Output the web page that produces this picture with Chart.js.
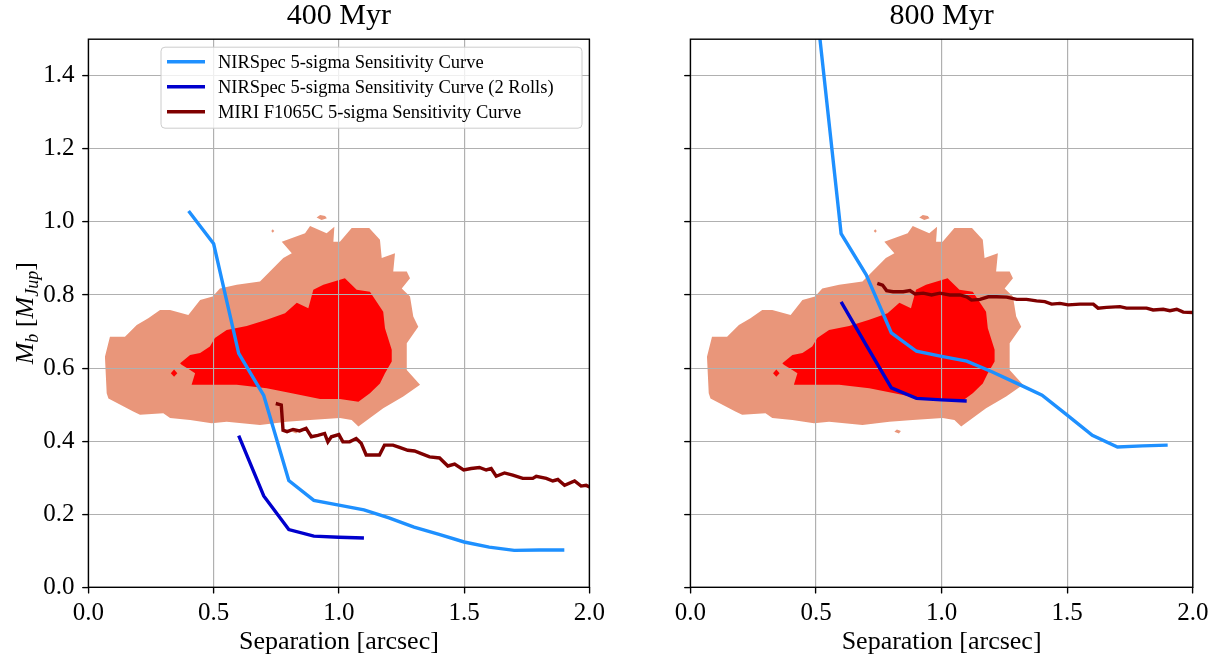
<!DOCTYPE html>
<html><head><meta charset="utf-8">
<script src="https://cdn.jsdelivr.net/npm/chart.js@4.4.1/dist/chart.umd.min.js"></script>
<style>
html,body{margin:0;padding:0;background:#fff;overflow:hidden}
#wrap{position:relative;width:1218px;height:656px;background:#fff}
canvas{position:absolute;top:0}
</style></head><body>
<div id="wrap">
<canvas id="c1" width="610" height="656" style="left:0px"></canvas>
<canvas id="c2" width="608" height="656" style="left:610px"></canvas>
</div>
<script>
// ---------- data ----------
const panelTitles = ['400 Myr', '800 Myr'];
const seriesLabels = ['NIRSpec 5-sigma Sensitivity Curve', 'NIRSpec 5-sigma Sensitivity Curve (2 Rolls)', 'MIRI F1065C 5-sigma Sensitivity Curve'];
const xTitle = 'Separation [arcsec]';
const xTickValues = [0, 0.5, 1.0, 1.5, 2.0];
const yTickValues = [0, 0.2, 0.4, 0.6, 0.8, 1.0, 1.2, 1.4];

const nirSep400 = [0.4, 0.5, 0.6, 0.7, 0.8, 0.9, 1.0, 1.1, 1.2, 1.3, 1.4, 1.5, 1.6, 1.7, 1.8, 1.9];
const nir400 = [1.03, 0.94, 0.64, 0.525, 0.292, 0.238, 0.225, 0.212, 0.19, 0.165, 0.145, 0.124, 0.110, 0.101, 0.102, 0.102];
const nirSep800 = [0.5, 0.6, 0.7, 0.8, 0.9, 1.0, 1.1, 1.2, 1.3, 1.4, 1.5, 1.6, 1.7, 1.8, 1.9];
const nir800 = [1.60, 0.968, 0.855, 0.696, 0.646, 0.632, 0.619, 0.59, 0.558, 0.526, 0.471, 0.416, 0.384, 0.387, 0.389];

const rollsSep = [0.6, 0.7, 0.8, 0.9, 1.0, 1.1];
const rolls400 = [0.415, 0.25, 0.158, 0.14, 0.137, 0.135];
const rolls800 = [0.781, 0.663, 0.546, 0.517, 0.513, 0.510];

const miriSep400 = [0.748,0.770,0.777,0.793,0.817,0.843,0.869,0.890,0.916,0.943,0.956,0.970,1.000,1.016,1.043,1.069,1.089,1.109,1.162,1.182,1.216,1.242,1.275,1.302,1.329,1.362,1.402,1.435,1.462,1.498,1.528,1.561,1.588,1.608,1.628,1.661,1.694,1.734,1.774,1.788,1.828,1.854,1.874,1.901,1.941,1.967,1.987,2.007];
const miri400 = [0.503,0.499,0.430,0.426,0.432,0.428,0.435,0.412,0.416,0.421,0.398,0.412,0.418,0.398,0.398,0.407,0.394,0.362,0.362,0.389,0.389,0.383,0.375,0.373,0.366,0.357,0.354,0.332,0.337,0.321,0.325,0.328,0.321,0.325,0.304,0.313,0.307,0.298,0.298,0.304,0.298,0.291,0.295,0.279,0.291,0.277,0.279,0.273];
const miriSep800 = [0.744,0.765,0.781,0.807,0.847,0.874,0.894,0.927,0.960,0.993,1.033,1.073,1.100,1.119,1.153,1.186,1.219,1.259,1.299,1.338,1.378,1.411,1.438,1.471,1.504,1.551,1.604,1.623,1.657,1.710,1.736,1.776,1.816,1.842,1.882,1.909,1.936,1.962,2.005];
const miri800 = [0.832,0.827,0.812,0.809,0.809,0.812,0.803,0.805,0.800,0.805,0.800,0.800,0.795,0.786,0.788,0.795,0.795,0.794,0.788,0.788,0.784,0.782,0.775,0.777,0.773,0.775,0.775,0.764,0.766,0.768,0.764,0.764,0.764,0.759,0.761,0.757,0.761,0.753,0.752];

// probability contours (outlines of the filled levels)
const outerContour = [[0.086,0.686],[0.066,0.631],[0.073,0.531],[0.080,0.517],[0.179,0.481],[0.206,0.472],[0.299,0.476],[0.326,0.463],[0.406,0.458],[0.492,0.449],[0.552,0.453],[0.685,0.444],[0.792,0.453],[0.885,0.458],[1.004,0.463],[1.051,0.458],[1.078,0.440],[1.124,0.463],[1.177,0.490],[1.257,0.522],[1.324,0.554],[1.271,0.595],[1.271,0.668],[1.317,0.713],[1.297,0.741],[1.284,0.796],[1.251,0.818],[1.284,0.846],[1.271,0.864],[1.217,0.864],[1.224,0.914],[1.171,0.901],[1.164,0.951],[1.121,0.983],[1.051,0.983],[1.004,0.946],[0.978,0.946],[0.982,0.987],[0.951,0.969],[0.885,0.989],[0.865,0.969],[0.772,0.946],[0.812,0.914],[0.778,0.901],[0.685,0.837],[0.592,0.828],[0.525,0.818],[0.496,0.796],[0.446,0.786],[0.399,0.745],[0.326,0.759],[0.286,0.759],[0.239,0.736],[0.193,0.718],[0.146,0.686]];
const innerContour = [[0.366,0.613],[0.406,0.636],[0.446,0.641],[0.485,0.659],[0.505,0.682],[0.552,0.704],[0.632,0.715],[0.712,0.732],[0.785,0.750],[0.832,0.779],[0.878,0.764],[0.898,0.814],[0.938,0.828],[1.024,0.846],[1.071,0.814],[1.124,0.809],[1.177,0.754],[1.184,0.709],[1.211,0.650],[1.211,0.618],[1.184,0.586],[1.164,0.558],[1.124,0.531],[1.078,0.508],[1.004,0.515],[0.925,0.515],[0.812,0.531],[0.712,0.545],[0.592,0.554],[0.492,0.554],[0.412,0.554],[0.426,0.586],[0.406,0.595],[0.372,0.609]];
const redSpot = [[0.329,0.586],[0.342,0.596],[0.355,0.586],[0.342,0.576]];
const salmonBlobTop = [[0.911,1.012],[0.925,1.019],[0.945,1.016],[0.952,1.010],[0.931,1.005]];
const salmonDotTop = [[0.730,0.975],[0.736,0.980],[0.742,0.975],[0.736,0.970]];
const salmonBlobLow = [[0.812,0.426],[0.822,0.432],[0.838,0.428],[0.830,0.421]];

// ---------- helpers ----------
const FONT = '"Liberation Serif", "DejaVu Serif", serif';
const zip = (xs, ys) => xs.map((x, i) => ({x: x, y: ys[i]}));
const poly = (pts) => pts.map(p => ({x: p[0], y: p[1]}));

function curve(label, xs, ys, color, order) {
  return {label, data: zip(xs, ys), showLine: true, borderColor: color, backgroundColor: color,
    borderWidth: 3.4, pointRadius: 0, pointHoverRadius: 0, fill: false, order, clip: 0, isCurve: true};
}
function area(pts, color, order) {
  return {label: '', data: poly(pts), showLine: true, borderColor: 'rgba(0,0,0,0)', borderWidth: 0,
    backgroundColor: color, pointRadius: 0, pointHoverRadius: 0, fill: 'shape', order, clip: 0, isContour: true};
}
const SALMON = '#e9967a', RED = '#ff0000';
const C_NIR = '#1e90ff', C_ROLL = '#0000cd', C_MIRI = '#7f0000';

function datasets(nirX, nirY, rollY, miriX, miriY, withLowBlob) {
  const ds = [
    curve(seriesLabels[0], nirX, nirY, C_NIR, 3),
    curve(seriesLabels[1], rollsSep, rollY, C_ROLL, 2),
    curve(seriesLabels[2], miriX, miriY, C_MIRI, 1),
    area(redSpot, RED, 11),
    area(innerContour, RED, 12),
    area(salmonBlobTop, SALMON, 13),
    area(salmonDotTop, SALMON, 13),
    area(outerContour, SALMON, 14)
  ];
  if (withLowBlob) ds.push(area(salmonBlobLow, SALMON, 13));
  return ds;
}

// grid drawn above the filled contours but below the curves
const gridOver = {
  id: 'gridOver',
  beforeDatasetsDraw(chart) { chart.$gridDone = false; },
  beforeDatasetDraw(chart, args) {
    const ds = chart.data.datasets[args.index];
    if (ds.isCurve && !chart.$gridDone) {
      chart.$gridDone = true;
      chart.scales.x.drawGrid(chart.chartArea);
      chart.scales.y.drawGrid(chart.chartArea);
    }
  }
};

// frame, legend box and y title
const decor = {
  id: 'decor',
  afterDatasetsDraw(chart, args, opts) {
    const ctx = chart.ctx, ca = chart.chartArea;
    ctx.save();
    ctx.strokeStyle = '#000'; ctx.lineWidth = 1.4;
    ctx.strokeRect(ca.left, ca.top, ca.right - ca.left, ca.bottom - ca.top);
    if (opts.legend) {
      const x0 = ca.left + 72.6, y0 = ca.top + 8, w = 421, h = 81;
      ctx.beginPath();
      ctx.roundRect(x0, y0, w, h, 4);
      ctx.fillStyle = 'rgba(255,255,255,0.8)'; ctx.fill();
      ctx.strokeStyle = '#cccccc'; ctx.lineWidth = 1; ctx.stroke();
      const items = chart.data.datasets.filter(d => d.isCurve);
      items.sort((a, b) => seriesLabels.indexOf(a.label) - seriesLabels.indexOf(b.label));
      items.forEach((d, i) => {
        const y = ca.top + 22.5 + i * 25;
        ctx.beginPath(); ctx.strokeStyle = d.borderColor; ctx.lineWidth = 3.4;
        ctx.moveTo(x0 + 6, y); ctx.lineTo(x0 + 44, y); ctx.stroke();
        ctx.fillStyle = '#000'; ctx.font = '18.5px ' + FONT;
        ctx.textBaseline = 'middle'; ctx.textAlign = 'left';
        ctx.fillText(d.label, x0 + 57, y + 1.3);
      });
    }
    ctx.restore();
  },
  afterDraw(chart, args, opts) {
    if (!opts.yTitle) return;
    const ctx = chart.ctx, ca = chart.chartArea;
    const parts = [
      {t: 'M', f: 'italic 26px ' + FONT, dy: 0},
      {t: 'b', f: 'italic 18px ' + FONT, dy: 5},
      {t: ' [', f: '26px ' + FONT, dy: 0},
      {t: 'M', f: 'italic 26px ' + FONT, dy: 0},
      {t: 'Jup', f: 'italic 18px ' + FONT, dy: 5},
      {t: ']', f: '26px ' + FONT, dy: 0}
    ];
    ctx.save();
    ctx.translate(33, (ca.top + ca.bottom) / 2);
    ctx.rotate(-Math.PI / 2);
    let total = 0;
    parts.forEach(p => { ctx.font = p.f; p.w = ctx.measureText(p.t).width; total += p.w; });
    let x = -total / 2;
    ctx.fillStyle = '#000'; ctx.textBaseline = 'alphabetic'; ctx.textAlign = 'left';
    parts.forEach(p => { ctx.font = p.f; ctx.fillText(p.t, x, p.dy); x += p.w; });
    ctx.restore();
  }
};

function makeOptions(title, yWidth, padRight, showYLabels, legend, yTitle) {
  const gridCfg = {color: '#b0b0b0', lineWidth: 1.1, tickColor: '#000', tickLength: 6, tickWidth: 1.2, drawTicks: true};
  return {
    responsive: false, animation: false, devicePixelRatio: window.devicePixelRatio || 1,
    layout: {padding: {left: 0, right: padRight, top: 0, bottom: 0}},
    plugins: {
      legend: {display: false}, tooltip: {enabled: false},
      title: {display: true, text: title, color: '#000', fullSize: false,
        font: {family: FONT, size: 30, weight: 'normal', lineHeight: 1}, padding: {top: 1.2, bottom: 8}},
      decor: {legend, yTitle}
    },
    scales: {
      x: {type: 'linear', min: 0, max: 2,
        afterBuildTicks: s => { s.ticks = xTickValues.map(v => ({value: v})); },
        afterFit: s => { s.height = 68.7; },
        ticks: {callback: v => Number(v).toFixed(1), color: '#000', padding: 5, maxRotation: 0, minRotation: 0, autoSkip: false,
          font: {family: FONT, size: 25}},
        grid: gridCfg, border: {display: false},
        title: {display: true, text: xTitle, color: '#000', font: {family: FONT, size: 26, lineHeight: 1}, padding: {top: 0, bottom: 0.9}}
      },
      y: {type: 'linear', min: 0, max: 1.5,
        afterBuildTicks: s => { s.ticks = yTickValues.map(v => ({value: v})); },
        afterFit: s => { s.width = yWidth; },
        ticks: {callback: v => showYLabels ? Number(v).toFixed(1) : '', color: '#000', padding: 8, autoSkip: false,
          font: {family: FONT, size: 25}},
        grid: gridCfg, border: {display: false}
      }
    }
  };
}

new Chart(document.getElementById('c1'), {
  type: 'scatter',
  data: {datasets: datasets(nirSep400, nir400, rolls400, miriSep400, miri400, true)},
  options: makeOptions(panelTitles[0], 88.4, 20.5, true, true, true),
  plugins: [gridOver, decor]
});
new Chart(document.getElementById('c2'), {
  type: 'scatter',
  data: {datasets: datasets(nirSep800, nir800, rolls800, miriSep800, miri800, true)},
  options: makeOptions(panelTitles[1], 80.4, 25.2, false, false, false),
  plugins: [gridOver, decor]
});
</script>
</body></html>
